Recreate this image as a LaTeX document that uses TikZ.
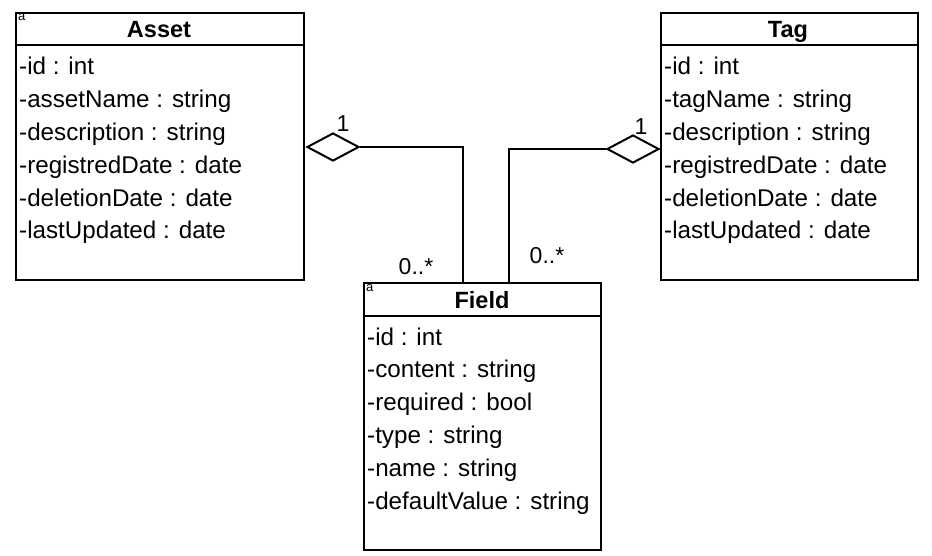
\documentclass[tikz,border=0pt]{standalone}
\usepackage{fontspec}
\setmainfont{Liberation Sans}
\usetikzlibrary{shapes.geometric,calc}
\begin{document}
\begin{tikzpicture}[x=1pt,y=-1pt,
  umlbox/.style={draw,line width=2pt,rectangle,inner sep=0pt,anchor=north west},
  attr/.style={anchor=base west,inner sep=0pt,font=\fontsize{24.2}{28}\selectfont},
  title/.style={anchor=base,inner sep=0pt,font=\fontsize{23.5}{28}\selectfont\bfseries},
  mult/.style={anchor=base,inner sep=0pt,font=\fontsize{23}{28}\selectfont},
  abstractmark/.style={anchor=base west,inner sep=0pt,font=\fontsize{13pt}{14pt}\selectfont},
  agg/.style={draw,line width=2pt,shape=diamond,fill=white,inner sep=0pt,minimum width=52pt,minimum height=28pt,aspect=1.857},
  conn/.style={line width=2pt}]
\useasboundingbox (0,0) rectangle (932,556);
% boxes
\node[umlbox,minimum width=288pt,minimum height=267pt] (asset) at (15,12) {};
\node[umlbox,minimum width=257pt,minimum height=267pt] (tag) at (660,12) {};
\node[umlbox,minimum width=237pt,minimum height=267pt] (field) at (363,282) {};
\draw[line width=2pt] ($(asset.north west)+(0,33)$) -- ($(asset.north east)+(0,33)$);
\draw[line width=2pt] ($(tag.north west)+(0,33)$) -- ($(tag.north east)+(0,33)$);
\draw[line width=2pt] ($(field.north west)+(0,34)$) -- ($(field.north east)+(0,34)$);
% titles
\node[title] (assetT) at (159,38) {Asset};
\node[title] (tagT) at (788,38) {Tag};
\node[title] (fieldT) at (482,308) {Field};
\node[abstractmark] (assetA) at (18,21) {a};
\node[abstractmark] (fieldA) at (366,291) {a};
% attributes
\foreach \t [count=\i] in {-id : int,-assetName : string,-description : string,-registredDate : date,-deletionDate : date,-lastUpdated : date}
  \node[attr] (asset-\i) at (19,{67+8+(\i-1)*32.8}) {\t};
\foreach \t [count=\i] in {-id : int,-tagName : string,-description : string,-registredDate : date,-deletionDate : date,-lastUpdated : date}
  \node[attr] (tag-\i) at (664,{67+8+(\i-1)*32.8}) {\t};
\foreach \t [count=\i] in {-id : int,-content : string,-required : bool,-type : string,-name : string,-defaultValue : string}
  \node[attr] (field-\i) at (367,{337+8+(\i-1)*32.8}) {\t};
% aggregations
\node[agg] (aggA) at (333,147) {};
\node[agg] (aggT) at (633,149) {};
\coordinate (fA) at ($(field.north west)+(100,0)$);
\coordinate (fT) at ($(field.north west)+(146,0)$);
\draw[conn] (aggA.east) -| (fA);
\draw[conn] (aggT.west) -| (fT);
% multiplicities
\node[mult] (m1) at (343,132) {1};
\node[mult] (m2) at (641,135) {1};
\node[mult] (m3) at (416,274) {0..*};
\node[mult] (m4) at (547,264) {0..*};
\end{tikzpicture}
\end{document}
